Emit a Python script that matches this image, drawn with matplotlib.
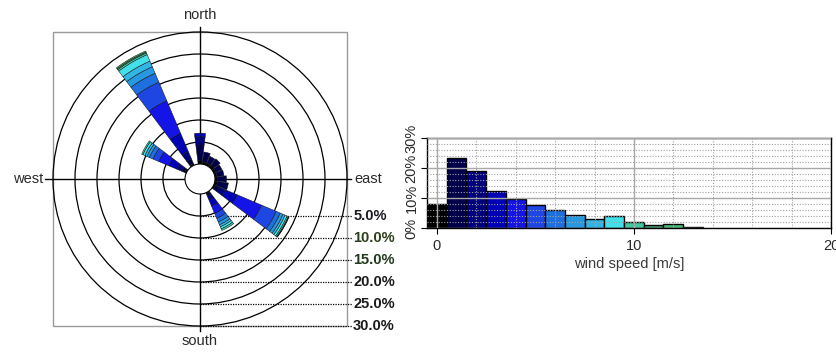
import matplotlib
matplotlib.use("Agg")
import matplotlib.pyplot as plt
from matplotlib.patches import Wedge, Circle, Rectangle
import numpy as np

plt.rcParams['font.family'] = ['Liberation Sans', 'DejaVu Sans']

# ---------------- data ----------------
# speed classes (m/s bins centred on integers) and histogram frequency (%)
speed_bins = [0, 1, 2, 3, 4, 5, 6, 7, 8, 9, 10, 11, 12, 13]
speed_freq = [8.1, 23.3, 19.1, 12.3, 9.7, 7.7, 5.9, 4.3, 3.0, 3.9, 1.9, 1.1, 1.4, 0.5]
class_colors = ['#000000', '#00004a', '#00007e', '#0000b4', '#1414e6', '#1e46e2',
                '#1e70de', '#2898e0', '#34b4e2', '#44e0ea', '#40c8a2', '#3ea070',
                '#4cbc76', '#141414']

# wind rose: direction (deg, clockwise from north) and stacked % per speed class
dir_000 = [0.8, 3.5, 2.0, 0.7]
dir_015 = [0.5, 2.3]
dir_030 = [0.6, 1.6]
dir_045 = [0.6, 1.8]
dir_060 = [0.5, 1.5]
dir_075 = [0.5, 1.6]
dir_090 = [0.6, 2.0]
dir_105 = [0.6, 2.5]
dir_120 = [0.4, 1.0, 1.4, 3.0, 6.0, 3.6, 1.0, 0.7, 0.5, 0.5, 0.3, 0.1, 0.1]
dir_150 = [0.2, 0.6, 1.0, 1.5, 1.8, 1.2, 0.9, 0.7, 0.5, 0.5, 0.4]
dir_300 = [0.3, 0.8, 1.2, 2.0, 2.5, 1.4, 0.9, 0.6, 0.5, 0.5, 0.3]
dir_330 = [0.4, 1.2, 1.8, 4.5, 8.0, 4.6, 2.2, 1.6, 1.4, 1.6, 0.4, 0.25, 0.25]
rose_dirs = [0, 15, 30, 45, 60, 75, 90, 105, 120, 150, 300, 330]
rose_table = [dir_000, dir_015, dir_030, dir_045, dir_060, dir_075, dir_090,
              dir_105, dir_120, dir_150, dir_300, dir_330]

circle_pcts = [5, 10, 15, 20, 25, 30]
circle_labels = ['5.0%', '10.0%', '15.0%', '20.0%', '25.0%', '30.0%']
label_colors = ['#1a1a22', '#2c3f1c', '#22381e', '#1a1a1a', '#1a1a1a', '#1a1a1a']

hist_xticks = [0, 10, 20]
hist_yticks = [0, 10, 20, 30]
hist_yticklabels = ['0%', '10%', '20%', '30%']

# ---------------- figure ----------------
W, H = 837, 353
fig = plt.figure(figsize=(W / 100, H / 100), dpi=100)

# ----- wind rose (cartesian axes, 1 unit = 1 % = 4.4 px) -----
k = 4.4
cx, cy = 200, 179
ax = fig.add_axes([0, 0, 400 / W, 1])
ax.set_xlim(-cx / k, (400 - cx) / k)
ax.set_ylim(-(H - cy) / k, cy / k)
ax.axis('off')

hole = 15 / k
bar_w = 14.0
rmax = hole + 30

ax.add_patch(Rectangle((-rmax, -rmax), 2 * rmax, 2 * rmax, fill=False,
                       edgecolor='#9a9a9a', lw=1.0, zorder=1))
for p in circle_pcts:
    ax.add_patch(Circle((0, 0), hole + p, fill=False, edgecolor='black',
                        lw=0.9, zorder=2))
ax.plot([-35.2, 34.4], [0, 0], color='black', lw=1.0, zorder=2)
ax.plot([0, 0], [-34.5, 34.5], color='black', lw=1.0, zorder=2)

for p, lab, col in zip(circle_pcts, circle_labels, label_colors):
    ax.plot([0, 34.6], [-(hole + p), -(hole + p)], color='black', lw=0.9,
            linestyle=(0, (1, 1)), zorder=2)
    ax.text(34.8, -(hole + p), lab, ha='left', va='center', fontsize=10.5,
            fontweight='bold', color=col, zorder=5)

for d, stack in zip(rose_dirs, rose_table):
    theta_c = 90 - d
    r = hole
    for ci, v in enumerate(stack):
        if v <= 0:
            continue
        ax.add_patch(Wedge((0, 0), r + v, theta_c - bar_w / 2, theta_c + bar_w / 2,
                           width=v, facecolor=class_colors[ci],
                           edgecolor='#101010', lw=0.35, zorder=3))
        r += v

ax.add_patch(Circle((0, 0), hole, facecolor='white', edgecolor='black',
                    lw=0.8, zorder=4))

txt = dict(fontsize=10.5, color='#2a2a2a')
ax.text(0, 37.3, 'north', ha='center', va='center', **txt)
ax.text(0, -36.9, 'south', ha='center', va='center', **txt)
ax.text(-35.6, 0, 'west', ha='right', va='center', **txt)
ax.text(35.0, 0, 'east', ha='left', va='center', **txt)

# ----- histogram -----
hx0, hx1, hy_top, hy_bot = 427, 831, 138, 228
hax = fig.add_axes([hx0 / W, (H - hy_bot) / H, (hx1 - hx0) / W, (hy_bot - hy_top) / H])
hax.bar(speed_bins, speed_freq, width=1.0, color=class_colors,
        edgecolor='black', lw=1.0, zorder=1)
hax.set_xlim(-0.5, 20)
hax.set_ylim(0, 30)
hax.set_axisbelow(False)
hax.set_xticks(hist_xticks)
hax.set_xticks(np.arange(2, 20, 2), minor=True)
hax.set_yticks(hist_yticks)
hax.set_yticks(np.arange(2, 30, 2), minor=True)
hax.set_yticklabels(hist_yticklabels, rotation=90, va='center')
hax.grid(which='major', color='#a8a8a8', lw=1.0, linestyle='-')
hax.grid(which='minor', color='#a0a0a0', lw=0.8, linestyle=(0, (1, 1.5)))
hax.tick_params(which='major', direction='out', length=4, width=0.8,
                labelsize=10.5, labelcolor='#2a2a2a', pad=2)
hax.tick_params(which='minor', length=0)
hax.tick_params(axis='x', pad=4)
for s in hax.spines.values():
    s.set_color('black')
    s.set_linewidth(1.0)
hax.set_xlabel('wind speed [m/s]', fontsize=10.5, color='#3a3a3a', labelpad=3)

fig.savefig('out.png', dpi=100)
